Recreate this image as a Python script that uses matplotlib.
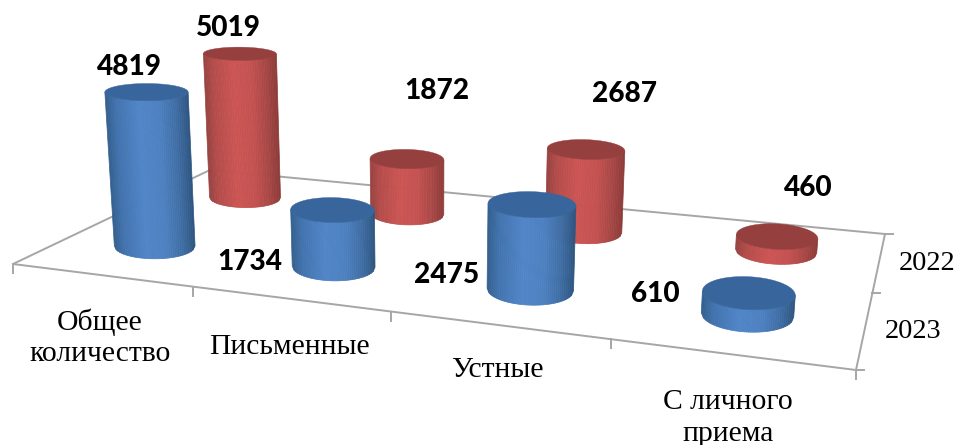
import numpy as np
import matplotlib
matplotlib.use("Agg")
import matplotlib.pyplot as plt
from matplotlib.collections import PolyCollection
from matplotlib.colors import LinearSegmentedColormap
from matplotlib.patches import Polygon

# ---- data ----
categories = ["Общее\nколичество", "Письменные", "Устные", "С личного\nприема"]
series = ["2023", "2022"]
values_2023 = [4819, 1734, 2475, 610]
values_2022 = [5019, 1872, 2687, 460]

# ---- floor geometry (image pixel frame) ----
W, H = 958, 445
floor_uv = [(0, 0), (4, 0), (4, 2), (0, 2)]
floor_px = [(13, 264), (856, 370), (885, 234), (210, 170)]
A, b = [], []
for (u, v), (x, y) in zip(floor_uv, floor_px):
    A.append([u, v, 1, 0, 0, 0, -u * x, -v * x]); b.append(x)
    A.append([0, 0, 0, u, v, 1, -u * y, -v * y]); b.append(y)
h = np.linalg.solve(np.array(A, float), np.array(b, float))
VP = (430.0, 5400.0)
w_ref = h[6] * 0.5 + h[7] * 0.5 + 1
C = -0.031 * w_ref / (VP[1] - 245.0)


def project(u, v, z=0.0):
    u, v = np.asarray(u, float), np.asarray(v, float)
    w = h[6] * u + h[7] * v + 1 + C * z
    return (h[0] * u + h[1] * v + h[2] + C * VP[0] * z) / w, (h[3] * u + h[4] * v + h[5] + C * VP[1] * z) / w


fig = plt.figure(figsize=(W / 100, H / 100), dpi=100)
ax = fig.add_axes([0, 0, 1, 1])
ax.set_xlim(0, W)
ax.set_ylim(H, 0)
ax.axis("off")

# ---- floor, ticks ----
grey = "#a6a6a6"
for pts in ([(0, 0), (4, 0)], [(4, 0), (4, 2)], [(4, 2), (0, 2)], [(0, 2), (0, 0)]):
    xs, ys = project([p[0] for p in pts], [p[1] for p in pts])
    ax.plot(xs, ys, color=grey, lw=1.4, zorder=1, solid_capstyle="projecting")
for i in range(len(categories) + 1):
    x, y = project(i, 0)
    ax.plot([x, x], [y, y + 9], color=grey, lw=1.4, zorder=1)
for j in range(len(series) + 1):
    x, y = project(4, j)
    ax.plot([x, x + 8], [y, y], color=grey, lw=1.4, zorder=1)

# ---- cylinders ----
styles = {
    "2023": (LinearSegmentedColormap.from_list("b", [(0, "#34608f"), (.12, "#4273ae"), (.4, "#5085c8"), (.65, "#4d80c0"), (.85, "#3f6da3"), (1, "#2e5580")]), "#38659b"),
    "2022": (LinearSegmentedColormap.from_list("r", [(0, "#984341"), (.12, "#b34c4a"), (.4, "#cc5553"), (.65, "#c35150"), (.85, "#a64745"), (1, "#8c3b39")]), "#953f3e"),
}
RU, RV = 0.2, 0.235
top_theta = np.linspace(0, 2 * np.pi, 241)
# near half of the ring, sampled evenly across its width
side_theta = np.arccos(np.linspace(1, -1, 44))


def ring(u0, v0, z, theta):
    cx, cy = project(u0, v0, z)
    xr, yr = project(u0 + RU, v0, z)
    xl, yl = project(u0 - RU, v0, z)
    xb, yb = project(u0, v0 + RV, z)
    xf, yf = project(u0, v0 - RV, z)
    rx = np.hypot((xr - xl) / 2, 0.9 * (xf - xb) / 2)
    ry = abs(yf - yb) / 2
    tilt = (cx - 150.0) * 8e-5
    return (cx + rx * np.cos(theta),
            cy + ry * np.sin(theta) + tilt * rx * np.cos(theta))


zo = 2


def cylinder(u0, v0, val, name):
    global zo
    cmap, top = styles[name]
    bx, by = ring(u0, v0, 0, side_theta)
    tx, ty = ring(u0, v0, val, side_theta)
    polys, cols = [], []
    n = len(side_theta) - 1
    for a in range(n):
        c = a + 1
        polys.append([(bx[a], by[a]), (bx[c], by[c]), (tx[c], ty[c]), (tx[a], ty[a])])
        cols.append(cmap(1 - (a + 0.5) / n))
    pc = PolyCollection(polys, facecolors=cols, edgecolors=cols, linewidths=0.5, zorder=zo)
    pc.set_snap(False)
    ax.add_collection(pc)
    rx_, ry_ = ring(u0, v0, val, top_theta)
    ax.add_patch(Polygon(np.c_[rx_, ry_], closed=True, fc=top, ec=top, lw=0.3, zorder=zo + 1, snap=False))
    zo += 2


for i, val in enumerate(values_2022):
    cylinder(i + 0.5, 1.5, val, "2022")
for i, val in enumerate(values_2023):
    cylinder(i + 0.5, 0.5, val, "2023")

# ---- text ----
serif = dict(family="Liberation Serif", fontsize=21.3, color="black", ha="center", va="center", zorder=100)
bold = dict(family="Lato", fontweight=900, fontsize=20.2, color="black", ha="center", va="center", zorder=100)
cat_pos = [(100, 338), (289, 347), (497, 370), (728, 418)]
for s, (x, y) in zip(categories, cat_pos):
    ax.text(x, y, s, linespacing=1.27, **serif)
for s, (x, y) in zip(series[::-1], [(927, 263), (913, 331)]):
    ax.text(x, y, s, **{**serif, "fontsize": 20.3})
pos_2023 = [(129, 67), (250, 262), (447, 275), (655, 294)]
pos_2022 = [(228, 28), (437, 91), (625, 94), (808, 188)]
for val, (x, y) in zip(values_2023 + values_2022, pos_2023 + pos_2022):
    ax.text(x, y, str(val), **bold)

fig.savefig("out.png", dpi=100, facecolor="white")
